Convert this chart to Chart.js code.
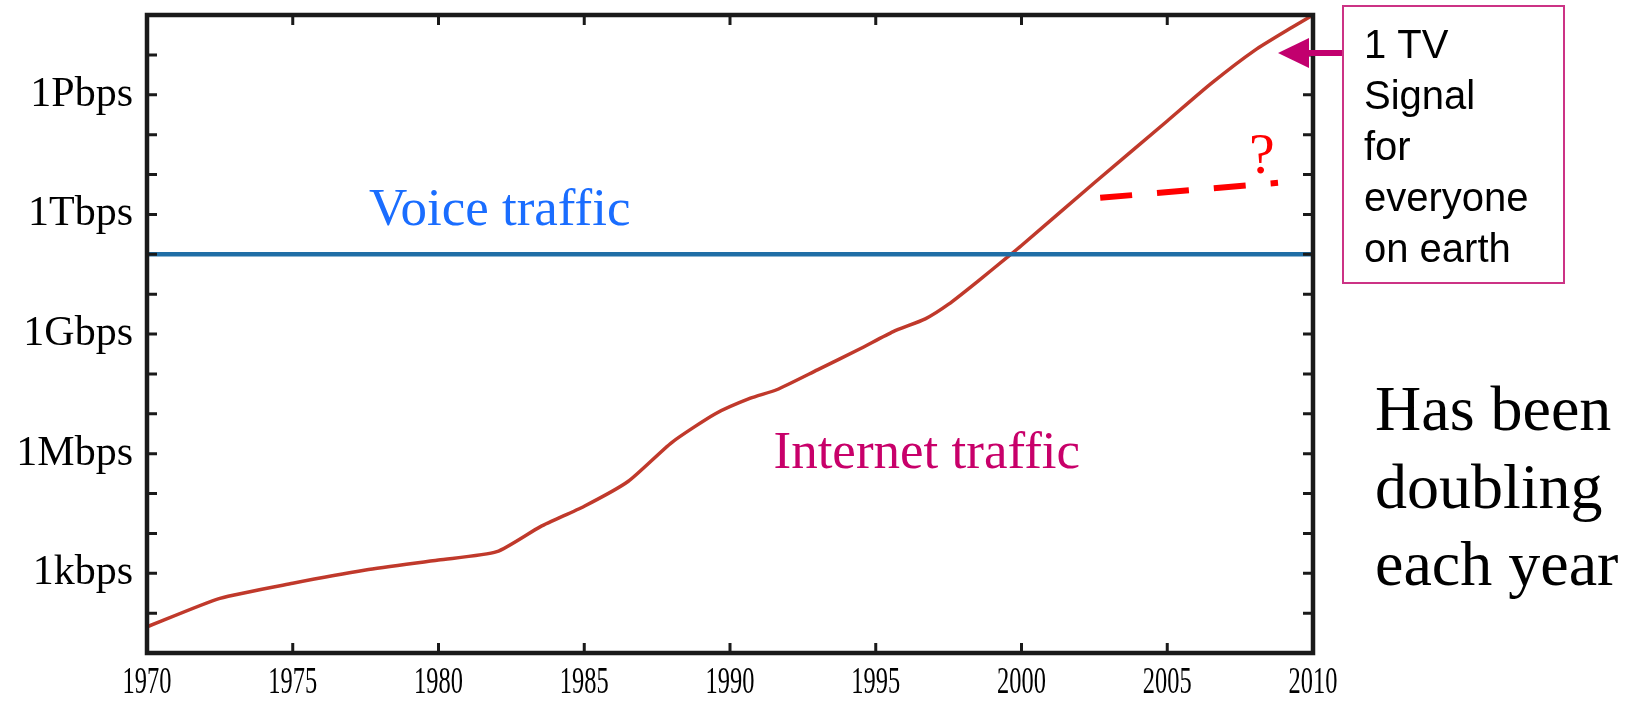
<!DOCTYPE html>
<html>
<head>
<meta charset="utf-8">
<title>Internet traffic vs voice traffic</title>
<script src="https://cdn.jsdelivr.net/npm/chart.js@4.4.1/dist/chart.umd.min.js"></script>
<style>
  html, body { margin: 0; padding: 0; background: #fff; }
  #trafficChart { display: block; }
</style>
</head>
<body>
<canvas id="trafficChart" width="1646" height="701"></canvas>
<script>
// ======================
// Data
// ======================

const years = [1970, 1972.5, 1975, 1977.5, 1980, 1982, 1983.5, 1985, 1986.5, 1988, 1989.5, 1990.7, 1991.6,
               1993, 1994.5, 1995.6, 1996.7, 1997.5, 1998.5, 1999.6, 2000, 2002.5, 2005, 2006.5, 2008, 2009.3, 2010];
const internetBps = [45, 234, 560, 1200, 2140, 3470, 1.48e4, 4.8e4, 2.0e5, 1.9e6, 1.0e7, 2.45e7, 4.0e7,
                     1.26e8, 4.4e8, 1.15e9, 2.4e9, 5.6e9, 2.1e10, 9.5e10, 1.66e11, 6.2e12, 2.2e14, 1.9e15, 1.3e16, 5.0e16, 1.0e17];

const voiceYears = [1970, 2010];
const voiceBps = [1e11, 1e11];

// dashed "?" trend
const guessYears = [2002.7, 2008.8];
const guessBps = [2.6e12, 6.2e12];

const xTickValues = [1970, 1975, 1980, 1985, 1990, 1995, 2000, 2005, 2010];
const yTickValues = [1e1, 1e2, 1e3, 1e4, 1e5, 1e6, 1e7, 1e8, 1e9, 1e10, 1e11, 1e12, 1e13, 1e14, 1e15, 1e16, 1e17];
const yLabelValues = [1e3, 1e6, 1e9, 1e12, 1e15];
const yLabelTexts = ['1kbps', '1Mbps', '1Gbps', '1Tbps', '1Pbps'];

const SERIF = '"Liberation Serif", "Times New Roman", serif';
const SANS = '"Liberation Sans", Arial, sans-serif';

function toPoints(xs, ys) {
    return xs.map((x, i) => ({ x: x, y: ys[i] }));
}

// ======================
// Frame, inward ticks and compressed year labels
// ======================

const framePlugin = {
    id: 'frame',
    afterDraw(chart) {
        const ctx = chart.ctx;
        const a = chart.chartArea;
        const xs = chart.scales.x;
        const ys = chart.scales.y;
        const len = 10;

        ctx.save();
        ctx.strokeStyle = '#1a1a1a';
        ctx.lineWidth = 3;
        ctx.beginPath();
        xTickValues.slice(1, -1).forEach(v => {
            const px = xs.getPixelForValue(v);
            ctx.moveTo(px, a.bottom); ctx.lineTo(px, a.bottom - len);
            ctx.moveTo(px, a.top); ctx.lineTo(px, a.top + len);
        });
        yTickValues.slice(1, -1).forEach(v => {
            const py = ys.getPixelForValue(v);
            ctx.moveTo(a.left, py); ctx.lineTo(a.left + len, py);
            ctx.moveTo(a.right, py); ctx.lineTo(a.right - len, py);
        });
        ctx.stroke();

        ctx.lineWidth = 4.5;
        ctx.strokeRect(a.left, a.top, a.right - a.left, a.bottom - a.top);

        // year labels (narrow serif, as in the original)
        ctx.fillStyle = '#000';
        ctx.font = '37px ' + SERIF;
        ctx.textAlign = 'center';
        ctx.textBaseline = 'alphabetic';
        xTickValues.forEach(v => {
            ctx.save();
            ctx.translate(xs.getPixelForValue(v), 693);
            ctx.scale(0.66, 1);
            ctx.fillText(String(v), 0, 0);
            ctx.restore();
        });
        ctx.restore();
    }
};

// ======================
// Text annotations
// ======================

const notesPlugin = {
    id: 'notes',
    afterDraw(chart) {
        const ctx = chart.ctx;
        const xs = chart.scales.x;
        const ys = chart.scales.y;

        ctx.save();
        ctx.textBaseline = 'alphabetic';

        // labels inside the plot, anchored to data coordinates
        ctx.textAlign = 'center';
        ctx.font = '53px ' + SERIF;
        ctx.fillStyle = '#1a6dff';
        ctx.fillText('Voice traffic', xs.getPixelForValue(1982.1), ys.getPixelForValue(5.4e11));

        ctx.fillStyle = '#c8006a';
        ctx.fillText('Internet traffic', xs.getPixelForValue(1996.75), ys.getPixelForValue(4.4e5));

        ctx.fillStyle = '#ff0000';
        ctx.font = '58px ' + SERIF;
        ctx.fillText('?', xs.getPixelForValue(2008.25), ys.getPixelForValue(1.1e13));

        // right hand note
        ctx.textAlign = 'left';
        ctx.fillStyle = '#000';
        ctx.font = '64px ' + SERIF;
        ['Has been', 'doubling', 'each year'].forEach((t, i) => {
            ctx.fillText(t, 1375, 430 + i * 77.5);
        });

        // boxed TV note
        ctx.strokeStyle = '#cc3385';
        ctx.lineWidth = 2;
        ctx.strokeRect(1343, 6, 221, 277);
        ctx.font = '40px ' + SANS;
        ['1 TV', 'Signal', 'for', 'everyone', 'on earth'].forEach((t, i) => {
            ctx.fillText(t, 1364, 58 + i * 51);
        });

        // arrow pointing at the curve
        ctx.strokeStyle = '#c2006e';
        ctx.fillStyle = '#c2006e';
        ctx.lineWidth = 6;
        ctx.beginPath();
        ctx.moveTo(1342, 53);
        ctx.lineTo(1304, 53);
        ctx.stroke();
        ctx.beginPath();
        ctx.moveTo(1278, 53);
        ctx.lineTo(1309, 38);
        ctx.lineTo(1309, 68);
        ctx.closePath();
        ctx.fill();
        ctx.restore();
    }
};

// ======================
// Chart
// ======================

new Chart(document.getElementById('trafficChart').getContext('2d'), {
    type: 'line',
    data: {
        datasets: [
            {
                label: 'Voice traffic',
                data: toPoints(voiceYears, voiceBps),
                borderColor: '#1f6ea6',
                borderWidth: 4.5,
                pointRadius: 0,
                tension: 0
            },
            {
                label: 'Internet traffic',
                data: toPoints(years, internetBps),
                borderColor: '#c0392b',
                borderWidth: 3.5,
                pointRadius: 0,
                tension: 0.2
            },
            {
                label: 'Trend?',
                data: toPoints(guessYears, guessBps),
                borderColor: '#ff0000',
                borderWidth: 6,
                borderDash: [32, 25],
                borderCapStyle: 'butt',
                pointRadius: 0,
                tension: 0
            }
        ]
    },
    options: {
        responsive: false,
        animation: false,
        layout: { padding: { left: 0, right: 333, top: 15, bottom: 0 } },
        plugins: {
            legend: { display: false },
            tooltip: { enabled: false }
        },
        scales: {
            x: {
                type: 'linear',
                min: 1970,
                max: 2010,
                grid: { display: false },
                border: { display: false },
                ticks: { display: false },
                afterBuildTicks: s => { s.ticks = xTickValues.map(v => ({ value: v })); },
                afterFit: s => { s.height = 48; s.paddingLeft = 0; s.paddingRight = 0; }
            },
            y: {
                type: 'logarithmic',
                min: 1e1,
                max: 1e17,
                grid: { display: false, drawTicks: false },
                border: { display: false },
                afterBuildTicks: s => { s.ticks = yTickValues.map(v => ({ value: v })); },
                afterFit: s => { s.width = 147; s.paddingTop = 0; s.paddingBottom = 0; },
                ticks: {
                    autoSkip: false,
                    padding: 14,
                    color: '#000',
                    font: { family: SERIF, size: 42 },
                    callback: value => {
                        const i = yLabelValues.indexOf(value);
                        return i >= 0 ? yLabelTexts[i] : '';
                    }
                }
            }
        }
    },
    plugins: [framePlugin, notesPlugin]
});
</script>
</body>
</html>
